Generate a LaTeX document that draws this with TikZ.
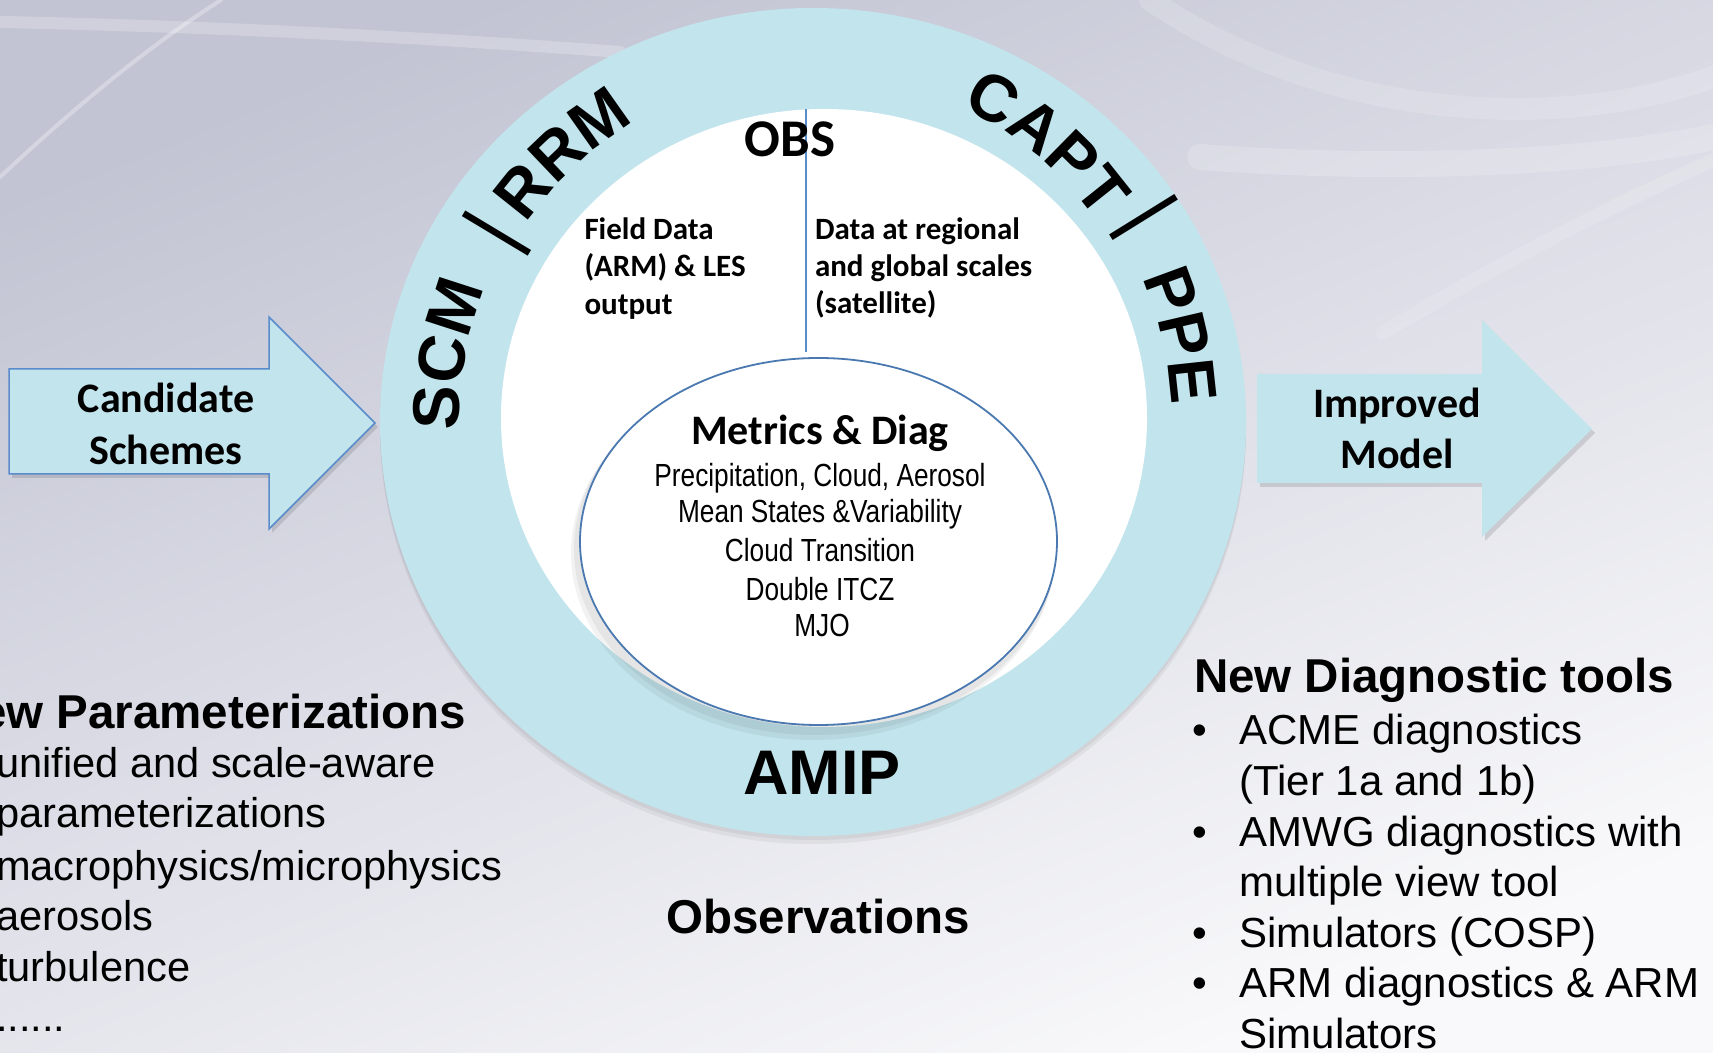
\documentclass[tikz,border=0pt]{standalone}
\usepackage{fontspec}
\setmainfont{Liberation Sans}
\setsansfont{Liberation Sans}
\newfontfamily\calfont{Carlito}
\newfontfamily\narrowfont{Liberation Sans}[FakeStretch=0.82]
\usetikzlibrary{shapes.geometric,decorations.text,calc}

\definecolor{ringblue}{HTML}{C2E4EC}
\definecolor{edgeblue}{HTML}{5A8BCB}
\definecolor{ovalblue}{HTML}{4A78B0}
\definecolor{bgtop}{HTML}{C2C4D3}
\definecolor{bgmid}{HTML}{E2E2E9}
\definecolor{bgbot}{HTML}{F9F9FB}

\newcommand{\fsz}[1]{\fontsize{#1}{#1}\selectfont}
\newcommand{\ringfont}{\bfseries\fsz{66}}

\begin{document}
\begin{tikzpicture}[x=1pt,y=1pt,
  every node/.style={inner sep=0pt, outer sep=0pt},
  boxlabel/.style={font=\calfont\bfseries\fsz{42}, anchor=base},
  obslabel/.style={font=\calfont\bfseries\fsz{31}, anchor=base west},
  metricline/.style={font=\narrowfont\fsz{32}, anchor=base},
  heading/.style={font=\bfseries\fsz{47.5}},
  listitem/.style={font=\fsz{41.6}, anchor=base west},
  diagitem/.style={font=\fsz{42}, anchor=base west},
  bulletmark/.style={font=\fsz{42}, anchor=base},
  ringword/.style={decorate, decoration={text along path, text align=center, text={#1}}},
  ringbar/.style={font=\fsz{82}},
  sheen/.style={white, line cap=round},
  arrowbody/.style={fill=ringblue},
]
\useasboundingbox (0,0) rectangle (1713,1052);

% backdrop
\shade[top color=bgtop, middle color=bgmid, bottom color=bgbot, shading angle=22]
  (0,0) rectangle (1713,1052);
\draw[sheen, line width=12pt, opacity=0.22] (0,1030) .. controls (200,1026) and (420,1015) .. (620,1000);
\draw[sheen, line width=4pt, opacity=0.3] (0,875) .. controls (70,940) and (140,1000) .. (221,1052);
\draw[sheen, line width=22pt, opacity=0.15] (1150,1052) .. controls (1330,930) and (1560,920) .. (1713,975);
\draw[sheen, line width=26pt, opacity=0.18] (1200,895) .. controls (1400,880) and (1600,890) .. (1713,915);
\draw[sheen, line width=14pt, opacity=0.15] (1383,719) .. controls (1500,790) and (1620,850) .. (1713,892);

% input and output arrows
\fill[black, opacity=0.12] (12,679) -- (272,679) -- (272,731) -- (378,625) -- (272,519) -- (272,574) -- (12,574) -- cycle;
\filldraw[arrowbody, draw=edgeblue, line width=1.5pt]
  (9,683) -- (269,683) -- (269,735) -- (375,629) -- (269,523) -- (269,578) -- (9,578) -- cycle;
\fill[black, opacity=0.12] (1260,674) -- (1485,674) -- (1485,728) -- (1595,619) -- (1485,511) -- (1485,565) -- (1260,565) -- cycle;
\fill[arrowbody]
  (1257,678) -- (1482,678) -- (1482,732) -- (1592,623) -- (1482,515) -- (1482,569) -- (1257,569) -- cycle;
\node[boxlabel] (cand1) at (166,639) {Candidate};
\node[boxlabel] (cand2) at (166,587) {Schemes};
\node[boxlabel] (impr1) at (1397,634) {Improved};
\node[boxlabel] (impr2) at (1397,583) {Model};

% outer ring of model configurations, with a soft shadow underneath
\fill[black, opacity=0.05] (813,626) ellipse [x radius=433, y radius=414];
\fill[black, opacity=0.05] (813,622) ellipse [x radius=433, y radius=414];
\node[ellipse, fill=ringblue, minimum width=866pt, minimum height=828pt] (ring) at (813,630) {};
\node[ellipse, fill=white, minimum width=646pt, minimum height=618pt] (inner) at (824,634) {};

% metrics oval
\fill[black, opacity=0.05] (815,503) ellipse [x radius=241, y radius=186];
\fill[black, opacity=0.05] (813,499) ellipse [x radius=242, y radius=187];
\node[ellipse, draw=ovalblue, line width=1.8pt, fill=white, minimum width=477pt, minimum height=367pt] (metrics) at (818.5,510.5) {};

% observation split
\coordinate (obstop) at (806,943);
\coordinate (obsfoot) at (806,700);
\draw[edgeblue, line width=2pt] (obstop) -- (obsfoot);

\node[font=\calfont\bfseries\fsz{53}, anchor=base] (obs) at (790,895) {OBS};
\node[obslabel] (field1) at (584.5,812) {Field Data};
\node[obslabel] (field2) at (584.5,775) {(ARM) \& LES};
\node[obslabel] (field3) at (584.5,737.5) {output};
\node[obslabel] (sat1) at (815,812) {Data at regional};
\node[obslabel] (sat2) at (815,775) {and global scales};
\node[obslabel] (sat3) at (815,738) {(satellite)};

\node[font=\calfont\bfseries\fsz{42}, anchor=base] (mdtitle) at (820,607.5) {Metrics \& Diag};
\node[metricline] (md1) at (820,565.3) {Precipitation, Cloud, Aerosol};
\node[metricline] (md2) at (820,529) {Mean States \&Variability};
\node[metricline] (md3) at (820,490.3) {Cloud Transition};
\node[metricline] (md4) at (820,451.3) {Double ITCZ};
\node[metricline] (md5) at (822,415) {MJO};

\node[font=\bfseries\fsz{63}, anchor=base] (amip) at (822,257) {AMIP};

% labels set along the ring
\coordinate (C) at (813,630);
\path[ringword={|\ringfont|SCM}] ($(C)+(199.5:354)$) arc[start angle=199.5, end angle=139.5, radius=354];
\path[ringword={|\ringfont|RRM}] ($(C)+(163:349)$) arc[start angle=163, end angle=103, radius=349];
\path[ringword={|\ringfont|CAPT}] ($(C)+(80:348)$) arc[start angle=80, end angle=20, radius=348];
\path[ringword={|\ringfont|PPE}] ($(C)+(43.2:359)$) arc[start angle=43.2, end angle=-16.8, radius=359];
\node[ringbar, rotate=59] (bar1) at (497,818) {|};
\node[ringbar, rotate=-58.2] (bar2) at (1144,835) {|};

% bottom captions
\node[heading, anchor=base] (obsv) at (818,118) {Observations};

\node[heading, anchor=base east] (newparam) at (466,323) {New Parameterizations};
\node[listitem] (np1) at (-4,274) {unified and scale-aware};
\node[listitem] (np2) at (-4,224) {parameterizations};
\node[listitem] (np3) at (-4,171.4) {macrophysics/microphysics};
\node[listitem] (np4) at (-4,121) {aerosols};
\node[listitem] (np5) at (-4,70) {turbulence};
\node[listitem] (np6) at (-4,20) {......};

\node[heading, anchor=base west] (newdiag) at (1194,359) {New Diagnostic tools};
\node[bulletmark] (b1) at (1200,307) {\textbullet};
\node[diagitem] (nd1) at (1239.5,307) {ACME diagnostics};
\node[diagitem] (nd1b) at (1239.5,256.5) {(Tier 1a and 1b)};
\node[bulletmark] (b2) at (1200,205.5) {\textbullet};
\node[diagitem] (nd2) at (1239.5,205.5) {AMWG diagnostics with};
\node[diagitem] (nd2b) at (1239.5,155.5) {multiple view tool};
\node[bulletmark] (b3) at (1200,104.5) {\textbullet};
\node[diagitem] (nd3) at (1239.5,104.5) {Simulators (COSP)};
\node[bulletmark] (b4) at (1200,54) {\textbullet};
\node[diagitem] (nd4) at (1239.5,54) {ARM diagnostics \& ARM};
\node[diagitem] (nd4b) at (1239.5,3.5) {Simulators};
\end{tikzpicture}
\end{document}
